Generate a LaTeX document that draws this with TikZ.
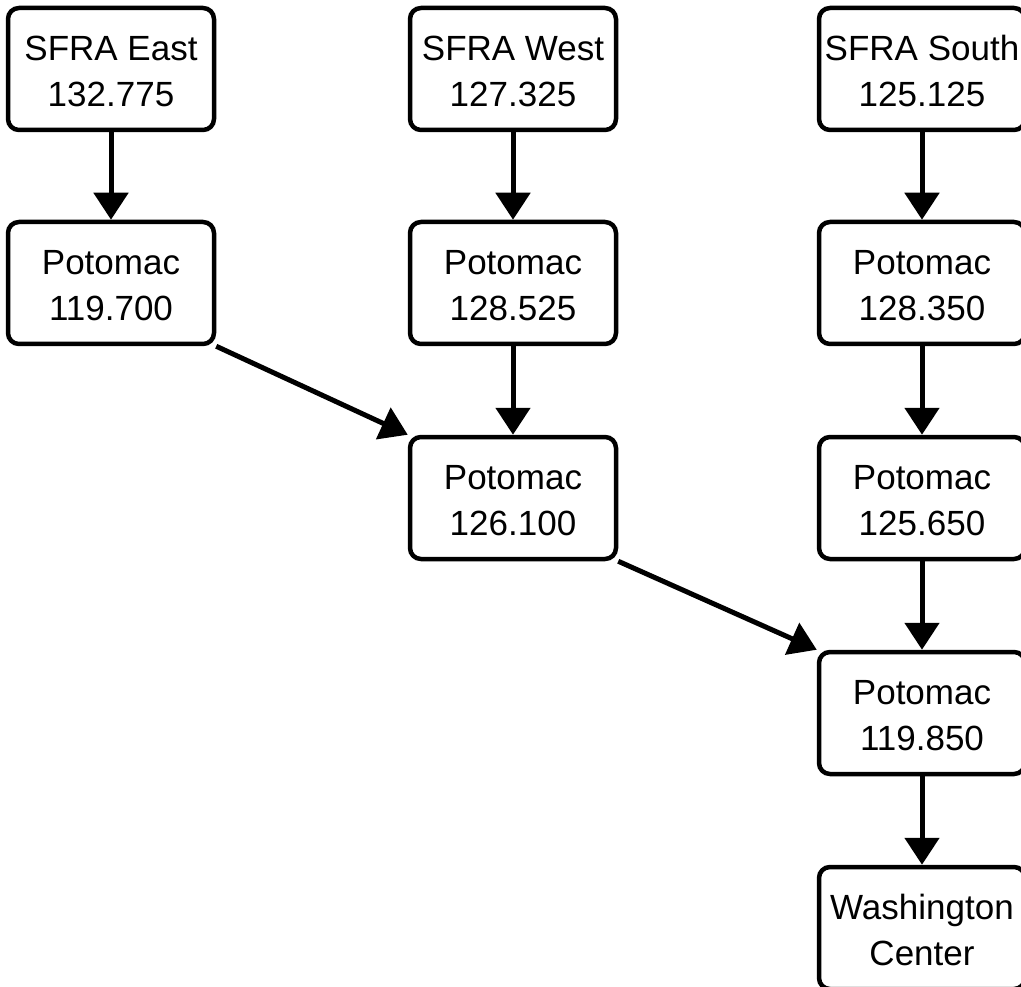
\documentclass[tikz,border=0pt]{standalone}
\usepackage{fontspec}
\setmainfont{Liberation Sans}
\usetikzlibrary{arrows.meta}
\newcommand\twolines[2]{\raisebox{-5pt}[\height][\depth]{\begin{tabular}{@{}c@{}}#1\\#2\end{tabular}}}
\begin{document}
\begin{tikzpicture}[x=1pt,y=-1pt,
  box/.style={draw=black, line width=4.5pt, rounded corners=11pt, minimum width=206pt, minimum height=122pt, inner sep=0pt, align=center, font=\fontsize{35}{46}\selectfont},
  arr/.style={line width=5pt, -{Triangle[width=34pt,length=27pt]}}]
\useasboundingbox (0,0) rectangle (1021,987);
\node[box] (se) at (111,69) {\twolines{SFRA East}{132.775}};
\node[box] (sw) at (513,69) {\twolines{SFRA West}{127.325}};
\node[box] (ss) at (922,69) {\twolines{SFRA South}{125.125}};
\node[box] (p1) at (111,283) {\twolines{Potomac}{119.700}};
\node[box] (p2) at (513,283) {\twolines{Potomac}{128.525}};
\node[box] (p3) at (922,283) {\twolines{Potomac}{128.350}};
\node[box] (p4) at (513,498) {\twolines{Potomac}{126.100}};
\node[box] (p5) at (922,498) {\twolines{Potomac}{125.650}};
\node[box] (p6) at (922,713) {\twolines{Potomac}{119.850}};
\node[box] (wc) at (922,928) {\twolines{Washington}{Center}};
\draw[arr] (se) -- (p1);
\draw[arr] (sw) -- (p2);
\draw[arr] (ss) -- (p3);
\draw[arr] (p2) -- (p4);
\draw[arr] (p3) -- (p5);
\draw[arr] (p5) -- (p6);
\draw[arr] (p6) -- (wc);
\draw[arr] (p1.south east) -- (p4.north west);
\draw[arr] (p4.south east) -- (p6.north west);
\end{tikzpicture}
\end{document}
